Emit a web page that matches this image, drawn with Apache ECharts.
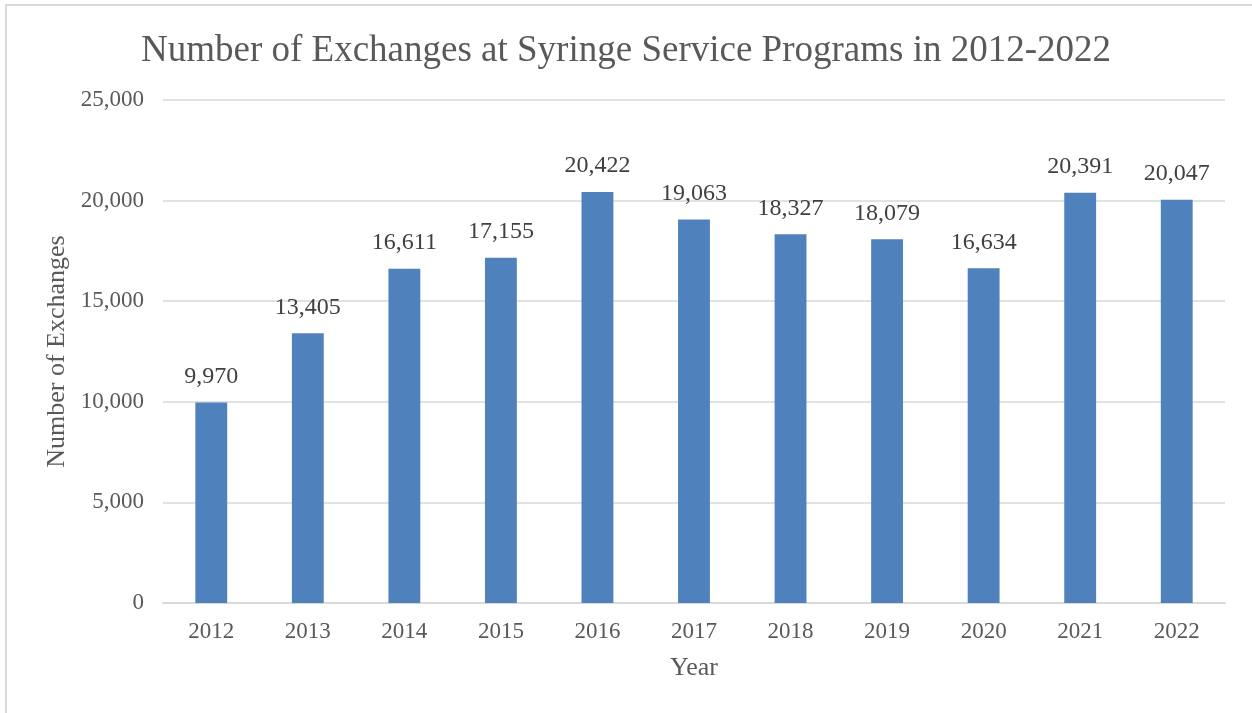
<!DOCTYPE html>
<html>
<head>
<meta charset="utf-8">
<script src="https://cdn.jsdelivr.net/npm/echarts@6/dist/echarts.min.js"></script>
<style>
  html, body { margin: 0; padding: 0; background: #fff; }
  #main { width: 1252px; height: 713px; }
</style>
</head>
<body>
<div id="main"></div>
<script>
var years = ['2012', '2013', '2014', '2015', '2016', '2017', '2018', '2019', '2020', '2021', '2022'];
var exchanges = [9970, 13405, 16611, 17155, 20422, 19063, 18327, 18079, 16634, 20391, 20047];

var chart = echarts.init(document.getElementById('main'));
var font = '"Liberation Serif", "Times New Roman", serif';

chart.setOption({
    backgroundColor: '#fff',
    textStyle: { fontFamily: font },
    title: {
        text: 'Number of Exchanges at Syringe Service Programs in 2012-2022',
        left: 'center',
        top: 28,
        textStyle: { fontFamily: font, fontSize: 37, fontWeight: 'normal', color: '#595959' }
    },
    graphic: [{
        type: 'rect',
        shape: { x: 6, y: 5, width: 1300, height: 800 },
        style: { fill: null, stroke: '#d9d9d9', lineWidth: 2 },
        silent: true
    }],
    grid: { left: 163, right: 27, top: 100, bottom: 110 },
    xAxis: {
        type: 'category',
        data: years,
        name: 'Year',
        nameLocation: 'middle',
        nameGap: 52,
        nameTextStyle: { fontFamily: font, fontSize: 26, color: '#595959' },
        axisTick: { show: false },
        axisLine: { lineStyle: { color: '#d9d9d9', width: 2 } },
        axisLabel: { fontFamily: font, fontSize: 23, color: '#595959', margin: 17 }
    },
    yAxis: {
        type: 'value',
        min: 0,
        max: 25000,
        interval: 5000,
        name: 'Number of Exchanges',
        nameLocation: 'middle',
        nameGap: 93,
        nameTextStyle: { fontFamily: font, fontSize: 26, color: '#595959' },
        axisLine: { show: false },
        axisTick: { show: false },
        splitLine: { lineStyle: { color: '#d9d9d9', width: 1.5 } },
        axisLabel: {
            fontFamily: font, fontSize: 23, color: '#595959', margin: 19,
            formatter: function (v) { return v.toLocaleString('en-US'); }
        }
    },
    series: [{
        type: 'bar',
        data: exchanges,
        barWidth: '33%',
        itemStyle: { color: '#4f81bd' },
        label: {
            show: true,
            position: 'top',
            distance: 14,
            fontFamily: font,
            fontSize: 24,
            color: '#404040',
            formatter: function (p) { return p.value.toLocaleString('en-US'); }
        }
    }]
});
</script>
</body>
</html>
